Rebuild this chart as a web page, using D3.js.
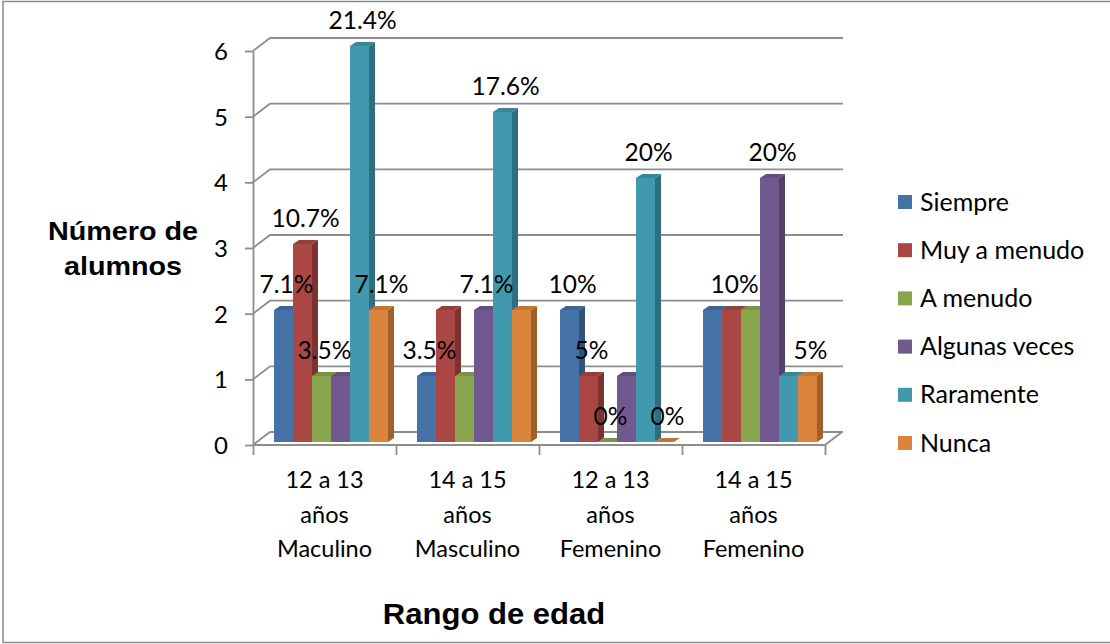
<!DOCTYPE html>
<html>
<head>
<meta charset="utf-8">
<script src="https://cdn.jsdelivr.net/npm/d3@7"></script>
<style>
  html, body { margin: 0; padding: 0; background: #fff; }
  svg { display: block; }
  text { font-family: Lato, "Open Sans", sans-serif; fill: #000; }
  .title { font-family: "Liberation Sans", Arial, sans-serif; font-weight: bold; }
</style>
</head>
<body>
<svg id="chart" width="1110" height="644"></svg>
<script>
// Age groups (one line per tspan)
const categories = [
  ["12 a 13", "años", "Maculino"],
  ["14 a 15", "años", "Masculino"],
  ["12 a 13", "años", "Femenino"],
  ["14 a 15", "años", "Femenino"]
];
const seriesNames = ["Siempre", "Muy a menudo", "A menudo", "Algunas veces", "Raramente", "Nunca"];
const seriesColors = ["#4572A7", "#AA4643", "#89A54E", "#71588F", "#4198AF", "#DB843D"];

// Number of students per answer, one value per age group
const siempre      = [2, 1, 2, 2];
const muyAMenudo   = [3, 2, 1, 2];
const aMenudo      = [1, 1, 0, 2];
const algunasVeces = [1, 2, 1, 4];
const raramente    = [6, 5, 4, 1];
const nunca        = [2, 2, 0, 1];

// Percentage labels shown above the bars ("" = no label)
const siempreLbl      = ["7.1%", "3.5%", "10%", ""];
const muyAMenudoLbl   = ["10.7%", "", "5%", "10%"];
const aMenudoLbl      = ["3.5%", "", "0%", ""];
const algunasVecesLbl = ["", "7.1%", "", "20%"];
const raramenteLbl    = ["21.4%", "17.6%", "20%", ""];
const nuncaLbl        = ["7.1%", "", "0%", "5%"];

const yTicks = [0, 1, 2, 3, 4, 5, 6];

const seriesValues = [siempre, muyAMenudo, aMenudo, algunasVeces, raramente, nunca];
const seriesLabels = [siempreLbl, muyAMenudoLbl, aMenudoLbl, algunasVecesLbl, raramenteLbl, nuncaLbl];

const svg = d3.select("#chart");

// Outer chart frame
svg.append("rect")
  .attr("x", 3).attr("y", 1.5).attr("width", 1115).attr("height", 641)
  .attr("fill", "none").attr("stroke", "#8a8a8a").attr("stroke-width", 1.5);

const catKeys = categories.map(c => c.join(" "));
const x = d3.scaleBand().domain(catKeys).range([253, 825]).paddingInner(0).paddingOuter(0);
const xs = d3.scaleBand().domain(seriesNames).range([21, 135]);
const y = d3.scaleLinear().domain([0, 6]).range([445, 51]);
const barY = d3.scaleLinear().domain([0, 6]).range([442, 46]);

// Depth offsets of the pseudo-3D walls and of each column
const wallDX = 17, wallDY = -13;
const barDX = 6, barDY = -4;
const gridColor = "#8d8d8d";

// Back wall gridlines with their left-wall diagonals
const grid = svg.append("g");
yTicks.forEach(v => {
  const yy = y(v);
  grid.append("path")
    .attr("d", `M${x.range()[0]},${yy} L${x.range()[0] + wallDX},${yy + wallDY} L${x.range()[1] + wallDX + 1},${yy + wallDY}`)
    .attr("fill", "none").attr("stroke", gridColor).attr("stroke-width", 1.8);
});
// Floor front edge and right edge
grid.append("path")
  .attr("d", `M${x.range()[0]},${y(0)} L${x.range()[1]},${y(0)} L${x.range()[1] + wallDX},${y(0) + wallDY}`)
  .attr("fill", "none").attr("stroke", gridColor).attr("stroke-width", 1.8);

// Value axis
const yAxis = svg.append("g")
  .attr("transform", `translate(${x.range()[0]},0)`)
  .call(d3.axisLeft(y).tickValues(yTicks).tickFormat(d3.format("d")).tickSize(8).tickPadding(17).tickSizeOuter(0));
yAxis.select(".domain").attr("stroke", gridColor).attr("stroke-width", 1.8);
yAxis.selectAll(".tick line").attr("stroke", gridColor).attr("stroke-width", 1.8);
yAxis.selectAll(".tick text")
  .style("font-family", "Lato, sans-serif").style("font-size", "24px").attr("fill", "#000").attr("dy", "0.36em");

// Category axis tick marks at the group boundaries
const edges = d3.scaleLinear().domain([0, categories.length]).range(x.range());
const xAxis = svg.append("g")
  .attr("transform", `translate(0,${y(0)})`)
  .call(d3.axisBottom(edges).tickValues(d3.range(categories.length + 1)).tickFormat("").tickSize(10).tickSizeOuter(0));
xAxis.select(".domain").remove();
xAxis.selectAll(".tick line").attr("stroke", gridColor).attr("stroke-width", 1.8);

// Columns: front face, right side face, top cap
const bars = svg.append("g");
categories.forEach((c, ci) => {
  seriesNames.forEach((s, si) => {
    const v = seriesValues[si][ci];
    const x0 = x(catKeys[ci]) + xs(s);
    const w = xs.bandwidth();
    const top = barY(v), bot = barY(0);
    const col = d3.color(seriesColors[si]);
    const g = bars.append("g");
    g.append("rect").attr("x", x0).attr("y", top).attr("width", w).attr("height", bot - top)
      .attr("fill", col.formatHex());
    g.append("path")
      .attr("d", `M${x0 + w},${top} L${x0 + w + barDX},${top + barDY} L${x0 + w + barDX},${bot + barDY} L${x0 + w},${bot} Z`)
      .attr("fill", col.darker(0.9).formatHex());
    g.append("path")
      .attr("d", `M${x0},${top} L${x0 + barDX},${top + barDY} L${x0 + w + barDX},${top + barDY} L${x0 + w},${top} Z`)
      .attr("fill", col.darker(0.35).formatHex());
  });
});

// Percentage labels
const labels = svg.append("g");
categories.forEach((c, ci) => {
  seriesNames.forEach((s, si) => {
    const t = seriesLabels[si][ci];
    if (!t) return;
    const v = seriesValues[si][ci];
    labels.append("text")
      .attr("x", x(catKeys[ci]) + xs(s) + xs.bandwidth() / 2 + 3)
      .attr("y", barY(v) - 17)
      .attr("text-anchor", "middle")
      .style("font-size", "24.5px")
      .text(t);
  });
});

// Category labels
const catLabels = svg.append("g");
categories.forEach((c, ci) => {
  const t = catLabels.append("text")
    .attr("text-anchor", "middle")
    .style("font-size", "23.5px");
  c.forEach((line, li) => {
    t.append("tspan")
      .attr("x", x(catKeys[ci]) + x.bandwidth() / 2)
      .attr("y", 488 + li * 34.5)
      .text(line);
  });
});

// Legend
const legend = svg.append("g");
seriesNames.forEach((s, si) => {
  const cy = 202 + si * 48.2;
  legend.append("rect").attr("x", 898).attr("y", cy - 7).attr("width", 14).attr("height", 14)
    .attr("fill", seriesColors[si]);
  legend.append("text").attr("x", 920).attr("y", cy + 8.5)
    .style("font-size", "25px").text(s);
});

// Axis titles
const yTitle = svg.append("text").attr("class", "title")
  .attr("text-anchor", "middle").style("font-size", "25px")
  .attr("transform", "translate(123,0) scale(1.15,1)");
yTitle.append("tspan").attr("x", 0).attr("y", 240).text("Número de");
yTitle.append("tspan").attr("x", 0).attr("y", 275).text("alumnos");

svg.append("text").attr("class", "title")
  .attr("text-anchor", "middle").style("font-size", "29px")
  .attr("transform", "translate(494,624) scale(1.07,1)")
  .text("Rango de edad");
</script>
</body>
</html>
